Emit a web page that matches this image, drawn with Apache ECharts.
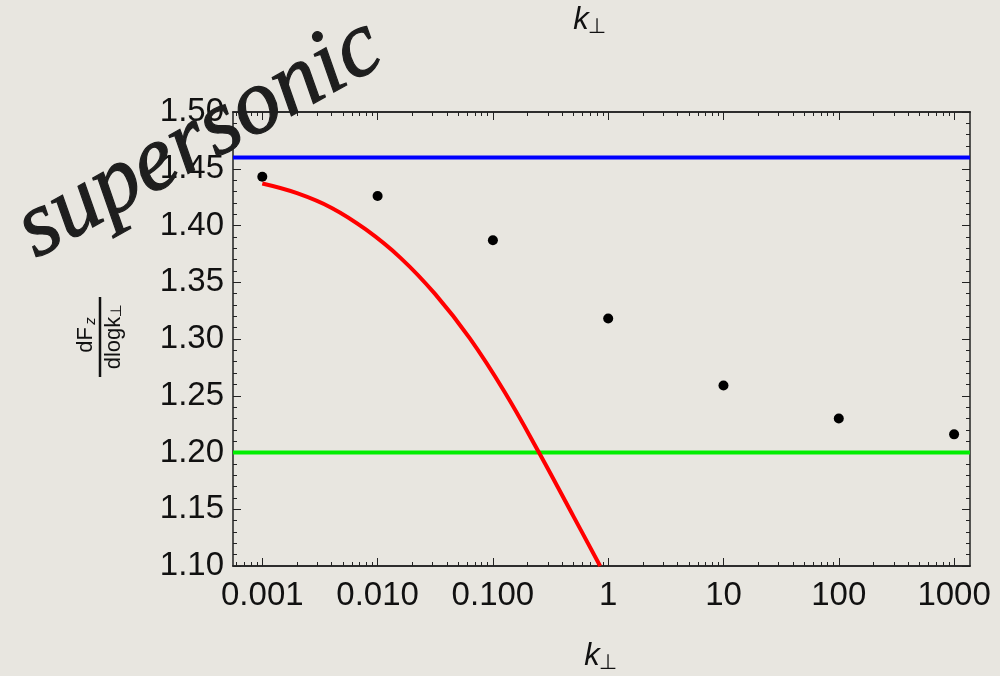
<!DOCTYPE html>
<html lang="en">
<head>
	<meta charset="UTF-8">
	<title>supersonic dF/dlogk</title>
	<style>
		html, body { margin: 0; padding: 0; background: #e8e6e0; }
		#chartBox { width: 1000px; height: 676px; }
	</style>
</head>
<body>
<div id="chartBox"></div>
<script src="https://cdn.jsdelivr.net/npm/echarts@6/dist/echarts.min.js"></script>
<script>
    // measured points (black dots)
    var kPoints = [0.001, 0.01, 0.1, 1, 10, 100, 1000];
    var dfPoints = [1.443, 1.426, 1.387, 1.318, 1.259, 1.230, 1.216];

    // red model curve
    var kCurve = [0.001, 0.002, 0.004, 0.0079, 0.0158, 0.0316, 0.0631, 0.126, 0.251, 0.501, 0.851];
    var dfCurve = [1.437, 1.4285, 1.4155, 1.3965, 1.3715, 1.3395, 1.3005, 1.2535, 1.200, 1.1435, 1.100];

    // horizontal reference levels
    var blueLevel = 1.46;
    var greenLevel = 1.20;

    // axis ranges and ticks
    var kMin = 0.000557, kMax = 1374;
    var yMin = 1.10, yMax = 1.50, yStep = 0.05;
    var kMajor = [0.001, 0.01, 0.1, 1, 10, 100, 1000];
    var kLabels = ['0.001', '0.010', '0.100', '1', '10', '100', '1000'];
    var kMinor = [0.0006, 0.0007, 0.0008, 0.0009,
        0.002, 0.003, 0.004, 0.005, 0.006, 0.007, 0.008, 0.009,
        0.02, 0.03, 0.04, 0.05, 0.06, 0.07, 0.08, 0.09,
        0.2, 0.3, 0.4, 0.5, 0.6, 0.7, 0.8, 0.9,
        2, 3, 4, 5, 6, 7, 8, 9,
        20, 30, 40, 50, 60, 70, 80, 90,
        200, 300, 400, 500, 600, 700, 800, 900];

    var font = 'Liberation Sans';
    var lineCol = '#222';

    function zip(xs, ys) {
        return xs.map(function (x, i) { return [x, ys[i]]; });
    }

    function xAxisDef(pos, ticks, len, withLabels) {
        return {
            type: 'log', logBase: 10, min: kMin, max: kMax, position: pos,
            axisLine: { show: true, onZero: false, lineStyle: { color: lineCol, width: 1.5 } },
            axisTick: { show: true, inside: true, length: len, customValues: ticks,
                lineStyle: { color: lineCol, width: 1 } },
            axisLabel: withLabels ? {
                show: true, customValues: kMajor, margin: 13,
                fontFamily: font, fontSize: 33, color: '#111',
                formatter: function (v) {
                    var i = kMajor.findIndex(function (m) { return Math.abs(Math.log10(m) - Math.log10(v)) < 1e-6; });
                    return i < 0 ? '' : kLabels[i];
                }
            } : { show: false },
            splitLine: { show: false }
        };
    }

    function yAxisDef(pos, withLabels) {
        return {
            type: 'value', min: yMin, max: yMax, interval: yStep, position: pos,
            axisLine: { show: true, onZero: false, lineStyle: { color: lineCol, width: 1.5 } },
            axisTick: { show: true, inside: true, length: 8, lineStyle: { color: lineCol, width: 1 } },
            minorTick: { show: true, splitNumber: 5, length: 4, lineStyle: { color: lineCol, width: 1 } },
            axisLabel: withLabels ? {
                show: true, margin: 9, fontFamily: font, fontSize: 33, color: '#111',
                formatter: function (v) { return v.toFixed(2); }
            } : { show: false },
            splitLine: { show: false }
        };
    }

    var myChart = echarts.init(document.getElementById('chartBox'));
    var option = {
        backgroundColor: '#e8e6e0',
        animation: false,
        grid: { left: 233, right: 30, top: 112, bottom: 110, containLabel: false },
        xAxis: [
            xAxisDef('bottom', kMajor, 8, true),
            xAxisDef('bottom', kMinor, 4, false),
            xAxisDef('top', kMajor, 8, false),
            xAxisDef('top', kMinor, 4, false)
        ],
        yAxis: [
            yAxisDef('left', true),
            yAxisDef('right', false)
        ],
        series: [
            {
                name: 'blue', type: 'line', symbol: 'none', silent: true,
                data: [[kMin, blueLevel], [kMax, blueLevel]],
                lineStyle: { color: '#0000ff', width: 4 }, clip: false
            },
            {
                name: 'green', type: 'line', symbol: 'none', silent: true,
                data: [[kMin, greenLevel], [kMax, greenLevel]],
                lineStyle: { color: '#00ee00', width: 4 }, clip: false
            },
            {
                name: 'model', type: 'line', symbol: 'none', smooth: 0.4,
                data: zip(kCurve, dfCurve),
                lineStyle: { color: '#ff0000', width: 4 }
            },
            {
                name: 'points', type: 'scatter', symbol: 'circle', symbolSize: 10,
                data: zip(kPoints, dfPoints),
                itemStyle: { color: '#000', opacity: 1 }
            }
        ],
        graphic: [
            // top axis title
            { type: 'text', x: 581, y: 20, style: { text: 'k', font: 'italic 31px "Liberation Sans"', fill: '#111', align: 'center', verticalAlign: 'middle' } },
            { type: 'text', x: 597, y: 28, style: { text: '⊥', font: '21px "DejaVu Sans"', fill: '#111', align: 'center', verticalAlign: 'middle' } },
            // bottom axis title
            { type: 'text', x: 592, y: 656, style: { text: 'k', font: 'italic 31px "Liberation Sans"', fill: '#111', align: 'center', verticalAlign: 'middle' } },
            { type: 'text', x: 608, y: 664, style: { text: '⊥', font: '21px "DejaVu Sans"', fill: '#111', align: 'center', verticalAlign: 'middle' } },
            // y axis title as a fraction, rotated
            {
                type: 'group', x: 100, y: 337, rotation: Math.PI / 2,
                children: [
                    { type: 'line', shape: { x1: -40, y1: 0, x2: 40, y2: 0 }, style: { stroke: '#111', lineWidth: 2.5 } },
                    { type: 'text', x: -3, y: -3, style: { text: 'dF', font: '22px "Liberation Sans"', fill: '#111', align: 'center', verticalAlign: 'bottom' } },
                    { type: 'text', x: 16, y: -2, style: { text: 'z', font: 'italic 15px "Liberation Sans"', fill: '#111', align: 'center', verticalAlign: 'bottom' } },
                    { type: 'text', x: -6, y: 3, style: { text: 'dlogk', font: '22px "Liberation Sans"', fill: '#111', align: 'center', verticalAlign: 'top' } },
                    { type: 'text', x: 26, y: 10, style: { text: '⊥', font: '15px "DejaVu Sans"', fill: '#111', align: 'center', verticalAlign: 'top' } }
                ]
            },
            // big slanted word
            {
                type: 'text', x: 200, y: 139, rotation: 0.51, z: 100,
                style: { text: 'supersonic', font: 'italic 93px "Liberation Serif"', fill: '#1e1e1e',
                    stroke: '#1e1e1e', lineWidth: 1.2, align: 'center', verticalAlign: 'middle' }
            }
        ]
    };
    myChart.setOption(option);
</script>
</body>
</html>
